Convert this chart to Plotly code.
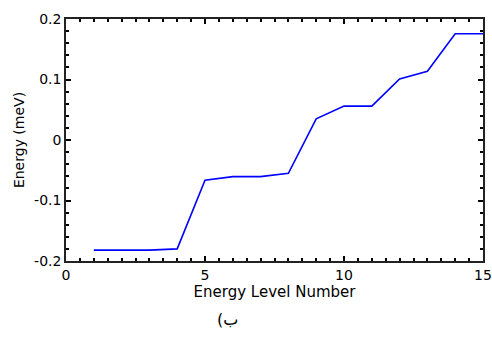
import plotly.graph_objects as go

levels = list(range(1, 16))
energy = [-0.182, -0.182, -0.182, -0.180, -0.0666, -0.0606, -0.0606, -0.055,
          0.035, 0.056, 0.056, 0.101, 0.1135, 0.1755, 0.1755]

FONT = "DejaVu Sans, Liberation Sans, Arial, sans-serif"

fig = go.Figure()
fig.add_trace(go.Scatter(x=levels, y=energy, mode="lines",
                         line=dict(color="#0000ff", width=1.6)))

axis_common = dict(showgrid=False, zeroline=False, showline=True, linecolor="#222222",
                   linewidth=1.5, mirror="ticks", ticks="inside", ticklen=5, tickwidth=1.5,
                   tickcolor="black", tickfont=dict(size=14, color="black", family=FONT),
                   automargin=False, ticklabeloverflow="allow")

fig.update_xaxes(range=[0, 15], dtick=5, tick0=0,
                 minor=dict(dtick=0.5, tick0=0, ticks="inside", ticklen=3, tickwidth=1.5,
                            tickcolor="black", showgrid=False),
                 title=dict(text="Energy Level Number", font=dict(size=15, color="black", family=FONT), standoff=2),
                 **axis_common)
fig.update_yaxes(range=[-0.2, 0.2], tick0=0, dtick=0.1,
                 tickvals=[-0.2, -0.1, 0, 0.1, 0.2], ticktext=["-0.2", "-0.1", "0", "0.1", "0.2"],
                 minor=dict(dtick=0.02, tick0=0, ticks="inside", ticklen=3, tickwidth=1.5,
                            tickcolor="black", showgrid=False),
                 title=dict(text="Energy (meV)", font=dict(size=14, color="black", family=FONT), standoff=6),
                 **axis_common)

fig.add_annotation(text="\u202d(ب\u202c", xref="paper", yref="paper", x=0.388, y=-0.24,
                   showarrow=False, font=dict(size=16, color="black", family=FONT),
                   xanchor="center", yanchor="middle")

fig.update_layout(width=492, height=340, margin=dict(l=66, r=9, t=19, b=79),
                  plot_bgcolor="white", paper_bgcolor="white", showlegend=False,
                  font=dict(family=FONT, color="black"))

fig.write_html("out.html", config={"displayModeBar": False},
               post_script="document.body.style.margin='0';document.body.style.overflow='hidden';")
